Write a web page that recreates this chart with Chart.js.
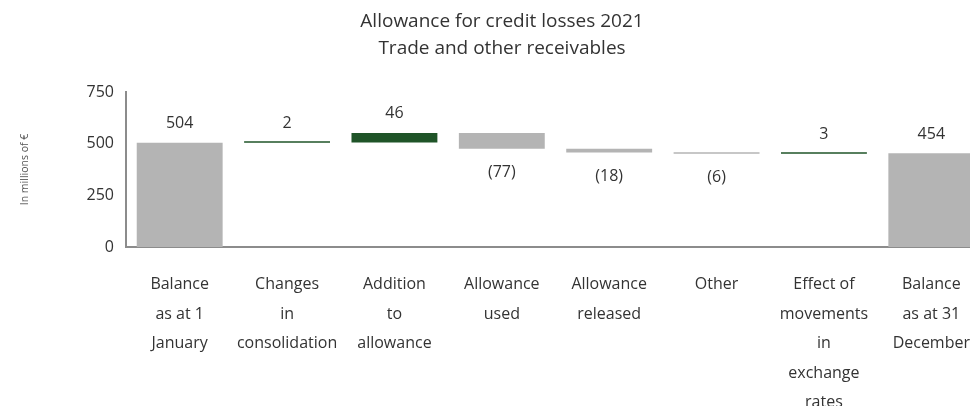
<!DOCTYPE html>
<html lang="en">
  <head>
    <meta charset="UTF-8" />
    <title>Allowance for credit losses 2021</title>
    <script src="https://cdn.jsdelivr.net/npm/chart.js"></script>
    <style>
      html,
      body {
        margin: 0;
        padding: 0;
        overflow: hidden;
        background: #fff;
      }
      #wrap {
        width: 1000px;
        height: 406px;
      }
    </style>
  </head>
  <body>
    <div id="wrap"><canvas id="plot"></canvas></div>
    <script>
      const categories = [
        ["Balance", "as at 1", "January"],
        ["Changes", "in", "consolidation"],
        ["Addition", "to", "allowance"],
        ["Allowance", "used"],
        ["Allowance", "released"],
        ["Other"],
        ["Effect of", "movements", "in", "exchange", "rates"],
        ["Balance", "as at 31", "December"],
      ];
      const values = [504, 2, 46, -77, -18, -6, 3, 454];
      const isTotal = [true, false, false, false, false, false, false, true];
      const yTicks = [0, 250, 500, 750];

      const GREY = "#b4b4b4";
      const GREEN = "#1f5428";
      const FONT = "'Open Sans', sans-serif";

      // build floating ranges for the waterfall
      let running = 0;
      const ranges = values.map((v, i) => {
        if (isTotal[i]) {
          running = v;
          return [0, v];
        }
        const start = running;
        running += v;
        return [start, running];
      });
      const colors = values.map((v, i) =>
        isTotal[i] ? GREY : v >= 0 ? GREEN : GREY
      );

      const fmt = (v) => (v < 0 ? "(" + Math.abs(v) + ")" : String(v));

      // value labels: above for increases/totals, below for decreases
      const valueLabels = {
        id: "valueLabels",
        afterDatasetsDraw(chart) {
          const ctx = chart.ctx;
          const meta = chart.getDatasetMeta(0);
          const y = chart.scales.y;
          ctx.save();
          ctx.font = "16px " + FONT;
          ctx.fillStyle = "#333";
          ctx.textAlign = "center";
          ctx.textBaseline = "middle";
          meta.data.forEach((bar, i) => {
            const [a, b] = ranges[i];
            const top = y.getPixelForValue(Math.max(a, b));
            const bot = y.getPixelForValue(Math.min(a, b));
            const ly = values[i] < 0 ? bot + 24 : top - 19;
            ctx.fillText(fmt(values[i]), bar.x, ly);
          });
          ctx.restore();
        },
      };

      new Chart(document.getElementById("plot"), {
        type: "bar",
        data: {
          labels: categories,
          datasets: [
            {
              data: ranges,
              backgroundColor: colors,
              borderWidth: 0,
              borderSkipped: false,
              minBarLength: 1.5,
              barPercentage: 0.8,
              categoryPercentage: 1,
            },
          ],
        },
        options: {
          responsive: true,
          maintainAspectRatio: false,
          animation: false,
          layout: { padding: { left: 19, right: 15, top: 0, bottom: 0 } },
          plugins: {
            legend: { display: false },
            tooltip: { enabled: false },
            title: {
              display: true,
              text: ["Allowance for credit losses 2021", "Trade and other receivables"],
              color: "#333",
              font: { family: FONT, size: 19, weight: "normal", lineHeight: 1.42 },
              padding: { top: 8, bottom: 30 },
            },
          },
          scales: {
            x: {
              grid: { display: false, drawTicks: false },
              border: { color: "#8c8c8c", width: 2 },
              ticks: {
                color: "#333",
                font: { family: FONT, size: 16, lineHeight: 1.84 },
                padding: 23,
                maxRotation: 0,
                autoSkip: false,
              },
              afterFit(scale) {
                scale.height = 159;
              },
            },
            y: {
              min: 0,
              max: 750,
              afterBuildTicks(scale) {
                scale.ticks = yTicks.map((v) => ({ value: v }));
              },
              grid: { display: false, drawTicks: false },
              border: { color: "#8c8c8c", width: 2 },
              ticks: {
                color: "#333",
                font: { family: FONT, size: 16 },
                padding: 12,
              },
              title: {
                display: true,
                text: "In millions of €",
                color: "#555",
                font: { family: FONT, size: 10.5 },
                padding: { top: 0, bottom: 0 },
              },
              afterFit(scale) {
                scale.width = 107;
              },
            },
          },
        },
        plugins: [valueLabels],
      });
    </script>
  </body>
</html>
